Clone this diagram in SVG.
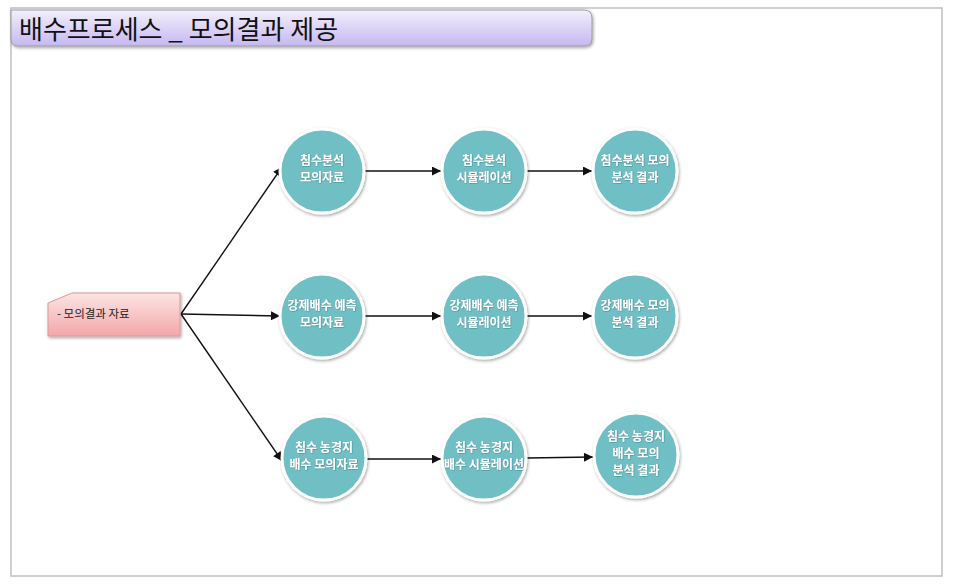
<svg xmlns="http://www.w3.org/2000/svg" width="965" height="585" viewBox="0 0 965 585">
<defs>
<linearGradient id="tg" x1="0" y1="0" x2="0" y2="1">
<stop offset="0" stop-color="#f3effc"/>
<stop offset="1" stop-color="#c5b8f1"/>
</linearGradient>
<linearGradient id="pg" x1="0" y1="0" x2="0" y2="1">
<stop offset="0" stop-color="#fde4e4"/>
<stop offset="1" stop-color="#f3a7a8"/>
</linearGradient>
<filter id="sh" x="-20%" y="-20%" width="140%" height="140%">
<feDropShadow dx="1" dy="1.5" stdDeviation="1.5" flood-color="#000" flood-opacity="0.35"/>
</filter>
<filter id="ts" x="-10%" y="-10%" width="120%" height="130%">
<feDropShadow dx="0.5" dy="0.5" stdDeviation="0.4" flood-color="#2a6f74" flood-opacity="0.7"/>
</filter>
<marker id="ah" viewBox="0 0 10 10" refX="10" refY="5" markerWidth="10" markerHeight="9" markerUnits="userSpaceOnUse" orient="auto">
<path d="M0,0 L10,5 L0,10 z" fill="#111"/>
</marker>
</defs>
<style>
.c{fill:#6fbfc5;stroke:#ffffff;stroke-width:3;filter:url(#sh)}
.ct{font-family:"Noto Sans CJK KR","Noto Sans",sans-serif;font-size:12px;font-weight:bold;fill:#ffffff;text-anchor:middle;filter:url(#ts)}
.ln{stroke:#111;stroke-width:1.4;fill:none;marker-end:url(#ah)}
</style>
<rect x="0" y="0" width="965" height="585" fill="#ffffff"/>
<rect x="11" y="8" width="931" height="568" fill="#ffffff" stroke="#c4c4c4" stroke-width="1.6"/>
<g id="title">
<path d="M11,10 H584 Q592,10 592,18 V39 Q592,46 584,46 H18 Q11,46 11,39 Z" fill="url(#tg)" stroke="#9a9a9a" stroke-width="1" filter="url(#sh)"/>
<text x="19" y="39" font-family="Noto Sans CJK KR,Noto Sans,sans-serif" font-size="26" fill="#111">배수프로세스 _ 모의결과 제공</text>
</g>
<g id="connectors">
<line class="ln" x1="181" y1="314" x2="282" y2="167"/>
<line class="ln" x1="181" y1="314" x2="280" y2="316"/>
<line class="ln" x1="181" y1="314" x2="282" y2="461"/>
<line class="ln" x1="365" y1="171" x2="441" y2="171"/>
<line class="ln" x1="527" y1="171" x2="592" y2="171"/>
<line class="ln" x1="365" y1="316" x2="441" y2="316"/>
<line class="ln" x1="527" y1="316" x2="592" y2="316"/>
<line class="ln" x1="366" y1="459" x2="441" y2="459"/>
<line class="ln" x1="527" y1="458" x2="593" y2="457"/>
</g>
<g id="src">
<path d="M48,303 L72,293 H180 V336 H48 Z" fill="url(#pg)" stroke="#d99a9a" stroke-width="1" filter="url(#sh)"/>
<text x="57" y="318" font-family="Noto Sans CJK KR,Noto Sans,sans-serif" font-size="11.5" fill="#222">- 모의결과 자료</text>
</g>
<g id="n11"><circle class="c" cx="322" cy="171" r="42"/><text class="ct" x="322" y="165">침수분석</text><text class="ct" x="322" y="182">모의자료</text></g>
<g id="n12"><circle class="c" cx="484" cy="171" r="42"/><text class="ct" x="484" y="165">침수분석</text><text class="ct" x="484" y="182">시뮬레이션</text></g>
<g id="n13"><circle class="c" cx="635" cy="171" r="42"/><text class="ct" x="635" y="165">침수분석 모의</text><text class="ct" x="635" y="182">분석 결과</text></g>
<g id="n21"><circle class="c" cx="322" cy="316" r="42"/><text class="ct" x="322" y="310">강제배수 예측</text><text class="ct" x="322" y="327">모의자료</text></g>
<g id="n22"><circle class="c" cx="484" cy="316" r="42"/><text class="ct" x="484" y="310">강제배수 예측</text><text class="ct" x="484" y="327">시뮬레이션</text></g>
<g id="n23"><circle class="c" cx="635" cy="316" r="42"/><text class="ct" x="635" y="310">강제배수 모의</text><text class="ct" x="635" y="327">분석 결과</text></g>
<g id="n31"><circle class="c" cx="324" cy="458" r="42"/><text class="ct" x="324" y="452">침수 농경지</text><text class="ct" x="324" y="469">배수 모의자료</text></g>
<g id="n32"><circle class="c" cx="484" cy="458" r="42"/><text class="ct" x="484" y="452">침수 농경지</text><text class="ct" x="484" y="469">배수 시뮬레이션</text></g>
<g id="n33"><circle class="c" cx="636" cy="455" r="42"/><text class="ct" x="636" y="441">침수 농경지</text><text class="ct" x="636" y="458">배수 모의</text><text class="ct" x="636" y="475">분석 결과</text></g>
</svg>
